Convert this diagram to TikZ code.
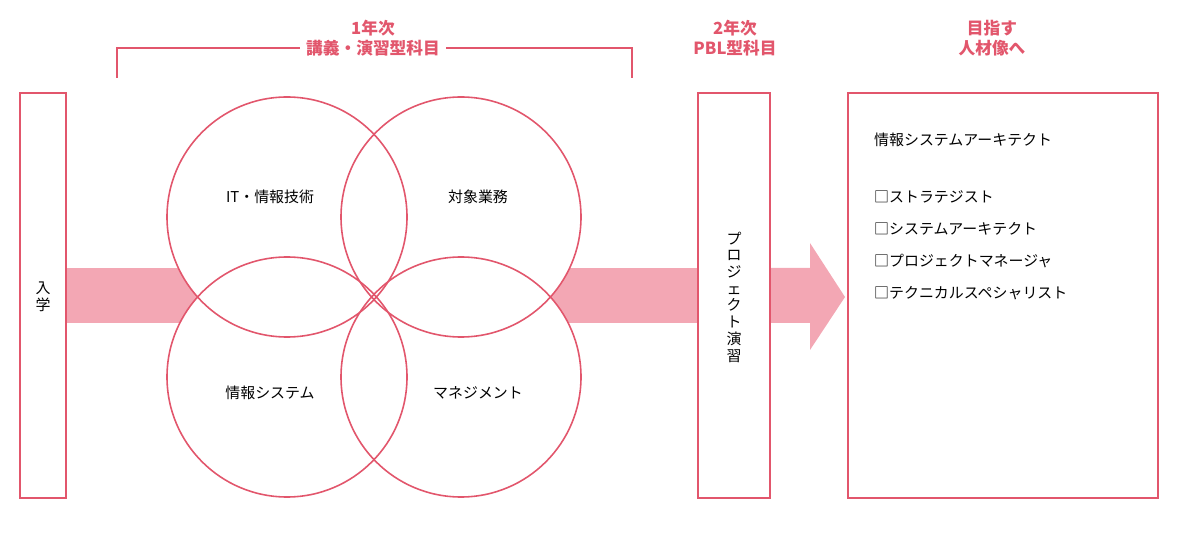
\documentclass[tikz,border=0pt]{standalone}
\usepackage{fontspec}
\setmainfont{Noto Sans CJK JP}
\usetikzlibrary{positioning}
\definecolor{linered}{HTML}{E2566C}
\definecolor{bandpink}{HTML}{F3A7B4}
\tikzset{
  frame/.style={draw=linered, line width=0.9pt},
  ring/.style={draw=linered, line width=0.9pt, circle, minimum size=240*0.02cm, inner sep=0pt},
  head/.style={text=linered, font=\bfseries\fontsize{9.5}{11.5}\selectfont, align=center},
  lbl/.style={font=\fontsize{8.5}{10}\selectfont},
  vlbl/.style={font=\fontsize{8.5}{9.5}\selectfont, align=center, inner sep=0pt},
}
\begin{document}
\begin{tikzpicture}[x=0.02cm, y=-0.02cm]
\useasboundingbox (0,0) rectangle (1200,533);

% band and arrow
\fill[bandpink] (66,268) rectangle (700,323);
\fill[bandpink] (770,268) -- (810,268) -- (810,243) -- (845,297) -- (810,350) -- (810,323) -- (770,323) -- cycle;

% boxes
\draw[frame, fill=white] (20,93) rectangle (66,498);
\node[vlbl] (nyugaku) at (43,297) {入\\学};
\draw[frame, fill=white] (698,93) rectangle (770,498);
\node[vlbl] (enshu) at (734,297) {プ\\ロ\\ジ\\ェ\\ク\\ト\\演\\習};
\draw[frame, fill=white] (848,93) rectangle (1158,498);

% circles (white inside, outlines drawn after)
\foreach \p in {(287,217),(461,217),(287,377),(461,377)}
  \fill[white] \p circle[radius=120];
\node[ring] (it) at (287,217) {};
\node[ring] (biz) at (461,217) {};
\node[ring] (sys) at (287,377) {};
\node[ring] (mgt) at (461,377) {};
\node[lbl] at (270,197) {IT・情報技術};
\node[lbl] at (478,197) {対象業務};
\node[lbl] at (270,393) {情報システム};
\node[lbl] at (478,393) {マネジメント};

% headings
\draw[linered, line width=0.9pt] (117,78) -- (117,48) -- (632,48) -- (632,78);
\node[head, fill=white] (year1) at (373,38) {1年次\\講義・演習型科目};
\node[head] (year2) at (735,38) {2年次\\PBL型科目};
\node[head] (goal) at (992,38) {目指す\\人材像へ};

% goals
\node[lbl, anchor=west] (arch) at (868,140) {情報システムアーキテクト};
\foreach \t [count=\i] in {ストラテジスト, システムアーキテクト, プロジェクトマネージャ, テクニカルスペシャリスト}
  \node[lbl, anchor=west] (g\i) at (868,165+32*\i) {□\t};
\end{tikzpicture}
\end{document}
